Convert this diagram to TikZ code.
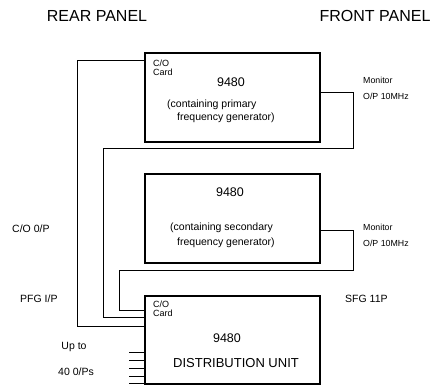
\documentclass[tikz,border=0pt]{standalone}
\usepackage{fontspec}
\setmainfont{Liberation Sans}
\usetikzlibrary{positioning,calc}

\begin{document}
\begin{tikzpicture}[x=1pt, y=-1pt,
  unit/.style={draw, line width=1.8pt, minimum width=175pt, minimum height=89pt, anchor=north west, inner sep=0pt},
  link/.style={line width=0.8pt},
  head/.style={font=\fontsize{16}{18}\selectfont},
  num/.style={font=\fontsize{12.5}{14}\selectfont},
  txt/.style={font=\fontsize{10.5}{12}\selectfont, inner sep=0pt, anchor=west},
  mon/.style={font=\fontsize{8.8}{10}\selectfont, inner sep=0pt, anchor=west},
  card/.style={font=\fontsize{9}{8.5}\selectfont, align=left, inner sep=0pt, anchor=north west},
  side/.style={font=\fontsize{10.5}{12}\selectfont, inner sep=0pt}]
  \useasboundingbox (0,0) rectangle (437,385);
  % headings
  \node[head] (rear) at (97,16) {REAR PANEL};
  \node[head] (front) at (375,16) {FRONT PANEL};
  % units
  \node[unit] (pfg) at (144,52) {};
  \node[unit] (sfg) at (144,173) {};
  \node[unit, minimum height=88pt] (dist) at (144,295) {};
  % primary unit
  \node[card] (card1) at (153,60) {C/O\\Card};
  \node[num] (n1) at (231,82) {9480};
  \node[txt] (p1) at (167,105) {(containing primary};
  \node[txt] (p2) at (177,118) {frequency generator)};
  \node[mon] (m1) at (363,80) {Monitor};
  \node[mon] (o1) at (363,96) {O/P 10MHz};
  % secondary unit
  \node[num] (n2) at (230,192) {9480};
  \node[txt] (s1) at (170,228) {(containing secondary};
  \node[txt] (s2) at (177,243) {frequency generator)};
  \node[mon] (m2) at (363,227) {Monitor};
  \node[mon] (o2) at (363,243) {O/P 10MHz};
  % distribution unit
  \node[card] (card3) at (153,301) {C/O\\Card};
  \node[num] (n3) at (227,338) {9480};
  \node[num, font=\fontsize{13}{15}\selectfont] (d3) at (236,363) {DISTRIBUTION UNIT};
  % side labels
  \node[side, anchor=west] (coop) at (12,229) {C/O 0/P};
  \node[side, anchor=west] (pfgin) at (20,299) {PFG I/P};
  \node[side, anchor=west] (sfgin) at (345,299) {SFG 11P};
  \node[side] (upto) at (74,347) {Up to};
  \node[side] (outs) at (76,372) {40 0/Ps};
  % connections
  \draw[link] ([yshift=-8pt]pfg.north west) -- (77,60) -- (77,326) -- (dist.west |- 0,326);
  \draw[link] ([yshift=-40pt]pfg.north east) -- (353,92) -- (353,148) -- (103,148) -- (103,317) -- (dist.west |- 0,317);
  \draw[link] ([yshift=-57pt]sfg.north east) -- (353,230) -- (353,270) -- (119,270) -- (119,310) -- (dist.west |- 0,310);
  % outputs
  \foreach \i/\yy in {1/352, 2/360, 3/368, 4/376, 5/383} {
    \coordinate (out\i) at (129,\yy);
    \draw[link] (out\i) -- (dist.west |- out\i);
  }
\end{tikzpicture}
\end{document}
